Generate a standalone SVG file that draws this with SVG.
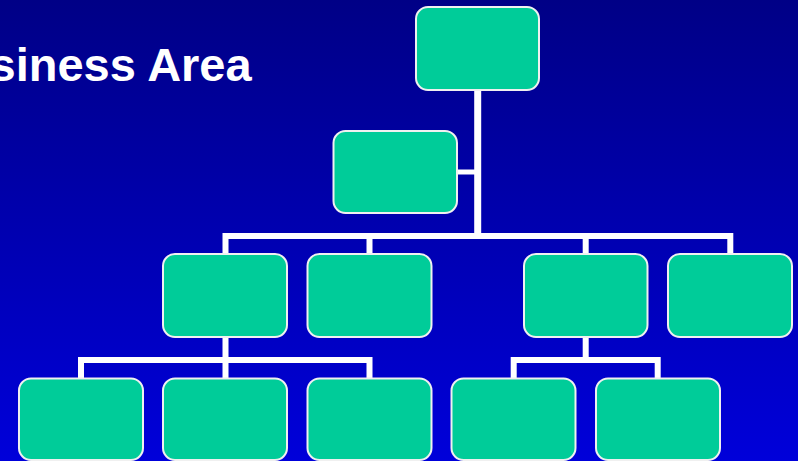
<svg xmlns="http://www.w3.org/2000/svg" width="798" height="461" viewBox="0 0 798 461">
<defs>
<linearGradient id="bg" x1="0" y1="0" x2="0" y2="1">
<stop offset="0" stop-color="#000086"/>
<stop offset="1" stop-color="#0000DA"/>
</linearGradient>
</defs>
<style>
.node{fill:#00CC99;stroke:#F0F0F0;stroke-width:2}
.conn{fill:none;stroke:#FFFFFF;stroke-width:6;stroke-linejoin:miter;stroke-linecap:butt}
.title{font-family:"Liberation Sans",Arial,sans-serif;font-weight:bold;font-size:47px;fill:#FFFFFF}
</style>
<rect x="0" y="0" width="798" height="461" fill="url(#bg)"/>
<text class="title" x="-10.5" y="81">siness Area</text>
<g id="connectors">
<path class="conn" d="M477.7,90 V236.3" style="stroke-width:7"/>
<path class="conn" d="M457,172 H475" style="stroke-width:5"/>
<path class="conn" d="M225.5,254 V236 H730.3 V254"/>
<path class="conn" d="M369.5,236 V254"/>
<path class="conn" d="M585.7,236 V254"/>
<path class="conn" d="M225.5,337 V378 M81,378 V360 H369.5 V378"/>
<path class="conn" d="M585.7,337 V360 M513.7,378 V360 H657.7 V378"/>
</g>
<g id="n-top"><rect class="node" x="416" y="7" width="123" height="83" rx="12"/></g>
<g id="n-assistant"><rect class="node" x="333.5" y="131" width="123.5" height="82" rx="12"/></g>
<g id="n-l2-1"><rect class="node" x="163" y="254" width="124" height="83" rx="12"/></g>
<g id="n-l2-2"><rect class="node" x="307.5" y="254" width="124" height="83" rx="12"/></g>
<g id="n-l2-3"><rect class="node" x="524" y="254" width="123.5" height="83" rx="12"/></g>
<g id="n-l2-4"><rect class="node" x="668" y="254" width="124" height="83" rx="12"/></g>
<g id="n-l3-1"><rect class="node" x="19" y="378.5" width="124" height="81.5" rx="12"/></g>
<g id="n-l3-2"><rect class="node" x="163" y="378.5" width="124" height="81.5" rx="12"/></g>
<g id="n-l3-3"><rect class="node" x="307.5" y="378.5" width="124" height="81.5" rx="12"/></g>
<g id="n-l3-4"><rect class="node" x="451.5" y="378.5" width="124" height="81.5" rx="12"/></g>
<g id="n-l3-5"><rect class="node" x="596" y="378.5" width="124" height="81.5" rx="12"/></g>
</svg>
